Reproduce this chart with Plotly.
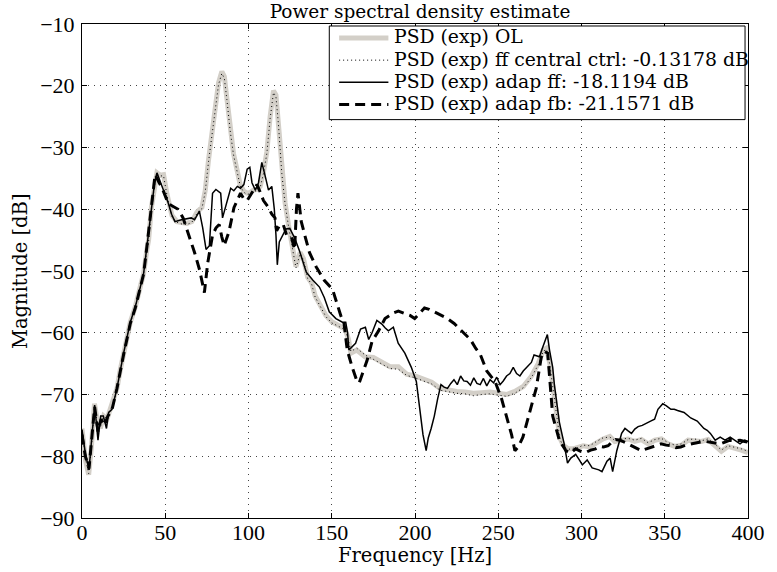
import plotly.graph_objects as go

# ---------------- data ----------------
ol_f = [0, 2, 4, 5.5, 7.5, 9, 11, 13, 15, 17, 19, 21, 23, 25, 27, 29, 32, 35, 37, 39, 40, 41.7, 43.7, 45, 47, 49,
        51, 54, 57, 60, 63, 66, 69, 72, 74, 76, 78, 80, 82, 84, 85.5, 87, 89, 91, 93, 95, 97, 99, 101, 103, 105,
        107, 109, 111, 113, 115, 116.5, 118, 120, 122, 124, 126, 128.5, 131, 133, 135.5, 138, 140, 143, 146.5,
        150, 154, 158, 160, 161.5, 165, 170, 175, 180, 185, 190, 195, 200, 205, 210, 215, 220, 225, 230, 235,
        240, 245, 250, 255, 260, 265, 270, 274, 277, 279, 281, 283, 285, 287, 289, 292, 295, 298, 301, 305, 309,
        313, 317, 320, 324, 328, 332, 336, 340, 344, 348, 352, 356, 360, 364, 368, 372, 376, 380, 384, 388, 392,
        396, 400]
ol_db = [-75.5, -80.5, -83, -79, -71.5, -74, -75.5, -73.5, -74, -72.5, -71, -69, -66, -63.3, -60.5, -58.3, -55.8,
         -52.6, -50.4, -46.5, -45, -39.7, -35.8, -34.1, -34.5, -34.4,
         -37.5, -41, -42, -42.2, -42.3, -42, -40.5, -39.7, -37, -32, -28, -23, -19.5, -17.7, -18.5, -22, -27, -31,
         -33.5, -36, -37, -37.4, -37.3, -36.9, -36.8,
         -36.3, -34, -30.7, -25, -20.8, -21.5, -26, -34, -39, -42.5, -45.3, -49.3, -47, -48, -51, -52, -54, -55.5,
         -57.2, -58.2, -58.9, -59.4, -61, -63.3, -62.8, -63.9, -64, -64.8, -65.5, -65.5, -66.7, -67, -67.5, -68,
         -69, -69.3, -69.5, -69.6, -69.8, -69.7, -69.6, -69.8, -70, -69.5, -68.7, -67, -65, -62.8, -62.5, -65,
         -69, -73.5, -77, -78.2, -78.8, -78.8, -78.5, -78.3, -78.5, -77.8, -77.2, -76.8, -77.6, -77.4, -77.2,
         -77.6, -77.3, -78, -77.4, -77.2, -78, -78.4, -78.2, -77.4, -77.4, -77.6, -77.3, -78.2, -79.2, -78.4,
         -78.6, -79, -79.4]

cc_f = ol_f[:]
cc_db = [-75.7, -80.3, -82.8, -79.2, -71.8, -74.2, -75.3, -73.6, -73.8, -72.6, -71.2, -69.1, -66.2, -63.5, -60.6,
         -58.4, -55.9, -52.8, -50.5, -46.6, -45.2, -39.9, -35.9, -34.3, -34.6, -34.6,
         -37.7, -41.2, -42.1, -42.4, -42.5, -42.1, -40.7, -39.9, -37.2, -32.3, -28.2, -23.3, -19.8, -18, -18.8,
         -22.2, -27.3, -31.2, -33.7, -36.2, -37.2, -37.6, -37.5, -37.1, -37,
         -36.5, -34.2, -31, -25.3, -21.1, -21.8, -26.3, -34.2, -39.2, -42.7, -45.5, -49.5, -47.2, -48.2, -51.2,
         -52.2, -54.2, -55.6, -57.4, -58.4, -59, -59.5, -61.2, -63, -62.5, -63.6, -64.3, -65, -65.8, -65.9,
         -66.9, -67.3, -67.8, -68.3, -69.3, -69.6, -69.8, -69.9, -70.2, -70, -69.9, -70.1, -70.3, -69.8, -68.9,
         -67.2, -65.2, -63, -62.7, -65.2, -69.2, -73.7, -77.2, -78.4, -78.9, -78.7, -78.6, -78.2, -78.3, -77.6,
         -77, -76.9, -77.4, -77.2, -77.1, -77.4, -77.1, -77.8, -77.3, -77.1, -77.8, -78.2, -78, -77.3, -77.2,
         -77.5, -77.2, -78, -79, -78.3, -78.5, -78.8, -79.2]

ff_f = [0, 2, 4.2, 6, 7.6, 9.6, 11.2, 12.8, 14.7, 16, 18, 21, 25, 29, 32, 35, 37, 39, 41.7, 43.7, 45, 47, 49.8,
        51.8, 53.8, 55.8, 59.7, 62.5, 65.6, 67.6, 70.5, 72.5, 74.5, 76.5, 78.4, 80.4, 83.3, 84.4, 87.3, 89.3,
        91.2, 93.3, 95.2, 97.2, 99.2, 100.8, 102.1, 104.1, 106, 108, 110, 112, 114, 115.5, 116.5, 117.3, 118.5,
        120.9, 122.5, 124.8, 127.8, 130.7, 134.7, 138.7, 142.6, 145.5, 148.5, 152.5, 156.4, 158.4, 159.5, 160.3,
        162.3, 164.3, 167.3, 170.2, 172.2, 174.2, 177.1, 180.1, 182, 184, 187, 189.9, 193.9, 197.8, 200.8, 202.8,
        204.8, 206.7, 208, 209.7, 211.6, 213.6, 215.6, 217.5, 219.5, 221.5, 223.4, 225.4, 227.4, 229.3, 231.3,
        233.3, 235.3, 237.2, 239.2, 241.1, 243.1, 245.1, 247.2, 249.1, 251.1, 253, 255, 257, 259, 261, 263, 265,
        267, 269.9, 271.5, 274.8, 276.5, 277.8, 279.5, 280.8, 282.7, 283.7, 286.7, 289.6, 291.6, 293.6, 296.5,
        298.5, 300.5, 303.4, 306.4, 310.4, 312.3, 315.3, 317.2, 318.7, 321.2, 324.1, 326.1, 328, 330, 332, 334,
        336.5, 338.9, 341.5, 343.9, 345.9, 348.8, 350.8, 353.7, 355.7, 357.7, 361.6, 365.6, 369.5, 373.5, 375.5,
        377.4, 380.3, 383.3, 386.2, 389.3, 392.2, 395.2, 398.1, 400]
ff_db = [-75.7, -79.5, -82.2, -76, -71.7, -77.4, -73.5, -73.5, -75.5, -72.9, -72.4, -69, -63.3, -58.3, -55.8,
         -52.6, -50.4, -46, -39.7, -35.5, -34.1, -35.5, -37.4,
         -39, -40.8, -42, -41.7, -41.5, -41.4, -41.7, -40.3, -43, -46.5, -45.9, -37.4, -36.8, -37.4, -41.4, -38.6,
         -36.6, -37, -36.3, -36.6, -36, -33.5, -33.2, -35.7, -36.9, -35.7, -32.4, -34.6, -36.9, -36.3, -40, -44.2,
         -49, -45.3, -43.9, -43.2, -43.1, -44.7, -46.8, -50.2, -51.5, -52.6, -54.3, -56.6, -57.7, -58.3, -58.3,
         -60, -62.8, -62.2, -61.7, -59.4, -59.1, -61.1, -60, -58, -58.6, -59.2, -59.7, -59.1, -61.7, -63.3, -65.6,
         -67.9, -72.4, -76.5, -79.1, -77, -75.5, -73.5, -70.7, -68.4, -68.8, -69, -68.2, -67.6, -68.4, -67, -67.8,
         -67.9, -68.5, -67.3, -68.2, -68.4, -67.4, -68.6, -67.6, -68.1, -67.2, -68.4, -67.8, -67, -66.6, -65.6,
         -66.6, -67, -66.2, -65.6, -64.8, -63.6, -63.9, -62.5, -61.4, -60.3, -62.8, -65.6, -68.4, -74.5, -78,
         -81.1, -80.3, -79.7, -80.5, -81.4, -80.6, -81.9, -82.2, -82.5, -80.8, -80.3, -82.5, -79.1, -76.3, -75.5,
         -75.9, -76.3, -75.6, -75.2, -75, -74.6, -74.3, -74, -72.4, -71.5, -71.8, -72.4, -72.4, -72.6, -72.9,
         -73.8, -74.3, -75.5, -75.8, -76.3, -77.4, -76.9, -77.4, -76.9, -77.4, -78, -77.4, -77.6]

fb_f = [0, 2, 4.2, 6, 7.6, 9.6, 11.5, 13.5, 15.5, 18, 21, 25, 29, 32, 35, 37, 39, 41.5, 43.9, 46, 48.5, 51.8,
        54.5, 57.7, 60.7, 63.6, 67.6, 70.6, 73.5, 75.5, 78.4, 80.5, 82.4, 84, 85.4, 88.3, 91.3, 95.2, 97.2, 99.2,
        102.1, 105.1, 107, 109, 112, 114, 115.9, 116.9, 118.9, 120.9, 122.9, 125.8, 127.7, 128.8, 129.7, 130.7,
        131.7, 133.8, 136.6, 140.6, 145.5, 150.5, 153.4, 155.4, 157.4, 159.3, 162.3, 165.2, 166.5, 168.3, 170.2,
        171.2, 174.2, 178.1, 182, 187, 190, 193.9, 197, 199.8, 202.5, 205.7, 208.5, 211.6, 215, 219.5, 223.5,
        227.4, 233.3, 236.4, 239.2, 243.1, 248.1, 252, 256, 258, 260, 262, 264.8, 268.8, 272.8, 275.8, 277.5,
        279.7, 281, 282.7, 286.7, 290.6, 293.5, 296.5, 299.5, 302.4, 305.5, 308.4, 311, 313.3, 316, 318.2, 320.5,
        323.1, 326.5, 330, 333, 336, 339, 341.9, 345, 347.8, 350.8, 353.7, 356.7, 359.6, 362.6, 365.6, 368.5,
        371.5, 374.5, 377.4, 380.3, 383.3, 386.2, 389.2, 392.2, 395.2, 398, 400]
fb_db = [-76.5, -80, -82, -76.5, -72, -76, -74, -75, -73.5, -72.5, -69, -63.5, -58.5, -56, -52.8, -50.5, -46, -40,
         -34.4, -35.5, -36.8, -39.1,
         -39.5, -40, -41.4, -43.6, -47, -49.8, -53.5, -48.7, -44.2, -43, -42.5, -44.5, -45.9, -43.6, -39.7, -37.4,
         -38.3, -38.6,
         -37.4, -36, -37.2, -38.6, -39.7, -40.8, -41.4, -43.5, -42.5, -42.5, -44.2, -44.5, -46.5, -40, -37.4,
         -40.3,
         -42, -44.2, -47, -49.3, -51.5, -53, -55.5, -57.2, -58.5, -62.8, -65.6, -67.9, -68.1, -66.7, -65,
         -64.5, -61.4, -59.7, -57.7, -56.8, -56.5, -56.9, -57.2, -57.7, -57, -56, -56.2, -56.6, -57, -57.7, -58.5,
         -59.6, -61.1, -62.5, -63.5, -66.2, -67.9, -70.7, -74.6, -76.5, -79.1, -78.5, -76.9, -73, -69, -64, -63,
         -63.3, -68, -73.5, -77.4, -79.1, -79.5, -78.8, -79.2, -79.4, -79, -78.8, -78.4, -78.5, -78.3, -77.7,
         -77.3,
         -77.4, -77.8, -78.3, -78.6, -79.1, -78.8, -78.5, -78.2, -78, -78.2, -78.3, -78.6, -78.5, -78.2, -78,
         -77.9,
         -77.7, -77.6, -77.7, -77.9, -78, -77.7, -77.4, -77.5, -77.4, -77.6, -77.7]

names = ["PSD (exp) OL",
         "PSD (exp) ff central ctrl: -0.13178 dB",
         "PSD (exp) adap ff: -18.1194 dB",
         "PSD (exp) adap fb: -21.1571 dB"]

x_ticks = [0, 50, 100, 150, 200, 250, 300, 350, 400]
y_ticks = [-90, -80, -70, -60, -50, -40, -30, -20, -10]
y_ticklabels = ["\u2212" + str(-v) for v in y_ticks]

# ---------------- styling ----------------
GRAY = "#d3cfc8"
FONT = "Liberation Serif"
FONT2 = "DejaVu Serif"
W, H = 777, 572
ML, MR, MT, MB = 82, 19, 22, 54
PW, PH = W - ML - MR, H - MT - MB

fig = go.Figure()
fig.add_trace(go.Scatter(x=ol_f, y=ol_db, mode="lines", name=names[0],
                         line=dict(color=GRAY, width=5)))
fig.add_trace(go.Scatter(x=cc_f, y=cc_db, mode="lines", name=names[1],
                         line=dict(color="black", width=1, dash="1px,3px")))
fig.add_trace(go.Scatter(x=ff_f, y=ff_db, mode="lines", name=names[2],
                         line=dict(color="black", width=1.5)))
fig.add_trace(go.Scatter(x=fb_f, y=fb_db, mode="lines", name=names[3],
                         line=dict(color="black", width=3, dash="10px,6px")))


def px2x(px):
    return (px - ML) / PW


def py2y(py):
    return 1 - (py - MT) / PH


# legend drawn in paper coordinates
shapes = [dict(type="rect", xref="paper", yref="paper",
               x0=px2x(333), x1=px2x(755), y0=py2y(118), y1=py2y(24),
               line=dict(color="black", width=1), fillcolor="white", layer="above")]
row_y = [36, 58.3, 80.6, 102.9]
styles = [dict(color=GRAY, width=5), dict(color="black", width=1, dash="1px,3px"),
          dict(color="black", width=1.5), dict(color="black", width=3, dash="10px,6px")]
annotations = []
for ry, st, nm in zip(row_y, styles, names):
    shapes.append(dict(type="line", xref="paper", yref="paper", x0=px2x(343), x1=px2x(393),
                       y0=py2y(ry), y1=py2y(ry), line=st, layer="above"))
    annotations.append(dict(text=nm, xref="paper", yref="paper", x=px2x(398), y=py2y(ry - 1),
                            xanchor="left", yanchor="middle", showarrow=False, borderpad=0,
                            font=dict(family=FONT2, size=18.8, color="black")))

# axis titles
annotations.append(dict(text="Frequency [Hz]", xref="paper", yref="paper", x=0.5, y=0,
                        xanchor="center", yanchor="middle", yshift=-37, showarrow=False, borderpad=0,
                        font=dict(family=FONT2, size=19.5, color="black")))
annotations.append(dict(text="Magnitude [dB]", xref="paper", yref="paper", x=0, y=0.5,
                        xanchor="center", yanchor="middle", xshift=-62, textangle=-90, showarrow=False,
                        borderpad=0, font=dict(family=FONT2, size=19.5, color="black")))

axis_common = dict(showline=True, linecolor="black", linewidth=1, mirror="allticks",
                   ticks="inside", ticklen=5, tickcolor="black", tickwidth=1,
                   showgrid=True, gridcolor="#444444", gridwidth=1, griddash="1px,5px",
                   zeroline=False, tickfont=dict(family=FONT, size=22, color="black"))

fig.update_layout(
    width=W, height=H,
    margin=dict(l=ML, r=MR, t=MT, b=MB, pad=0),
    paper_bgcolor="white", plot_bgcolor="white",
    showlegend=False,
    title=dict(text="Power spectral density estimate", x=(ML + PW / 2) / W, xanchor="center",
               y=1 - 12 / H, yanchor="middle", font=dict(family=FONT2, size=18.5, color="black")),
    xaxis=dict(range=[0, 400], tickvals=x_ticks, ticktext=[str(v) for v in x_ticks],
               ticklabelstandoff=-5, **axis_common),
    yaxis=dict(range=[-90, -10], tickvals=y_ticks, ticktext=y_ticklabels,
               ticklabelstandoff=2, **axis_common),
    shapes=shapes, annotations=annotations,
)

# remove the browser's default 8px page margin so the figure sits at the window's corner
fig.write_html("out.html", config={"displayModeBar": False},
               post_script="document.body.style.margin='0px';document.body.style.overflow='hidden';")
